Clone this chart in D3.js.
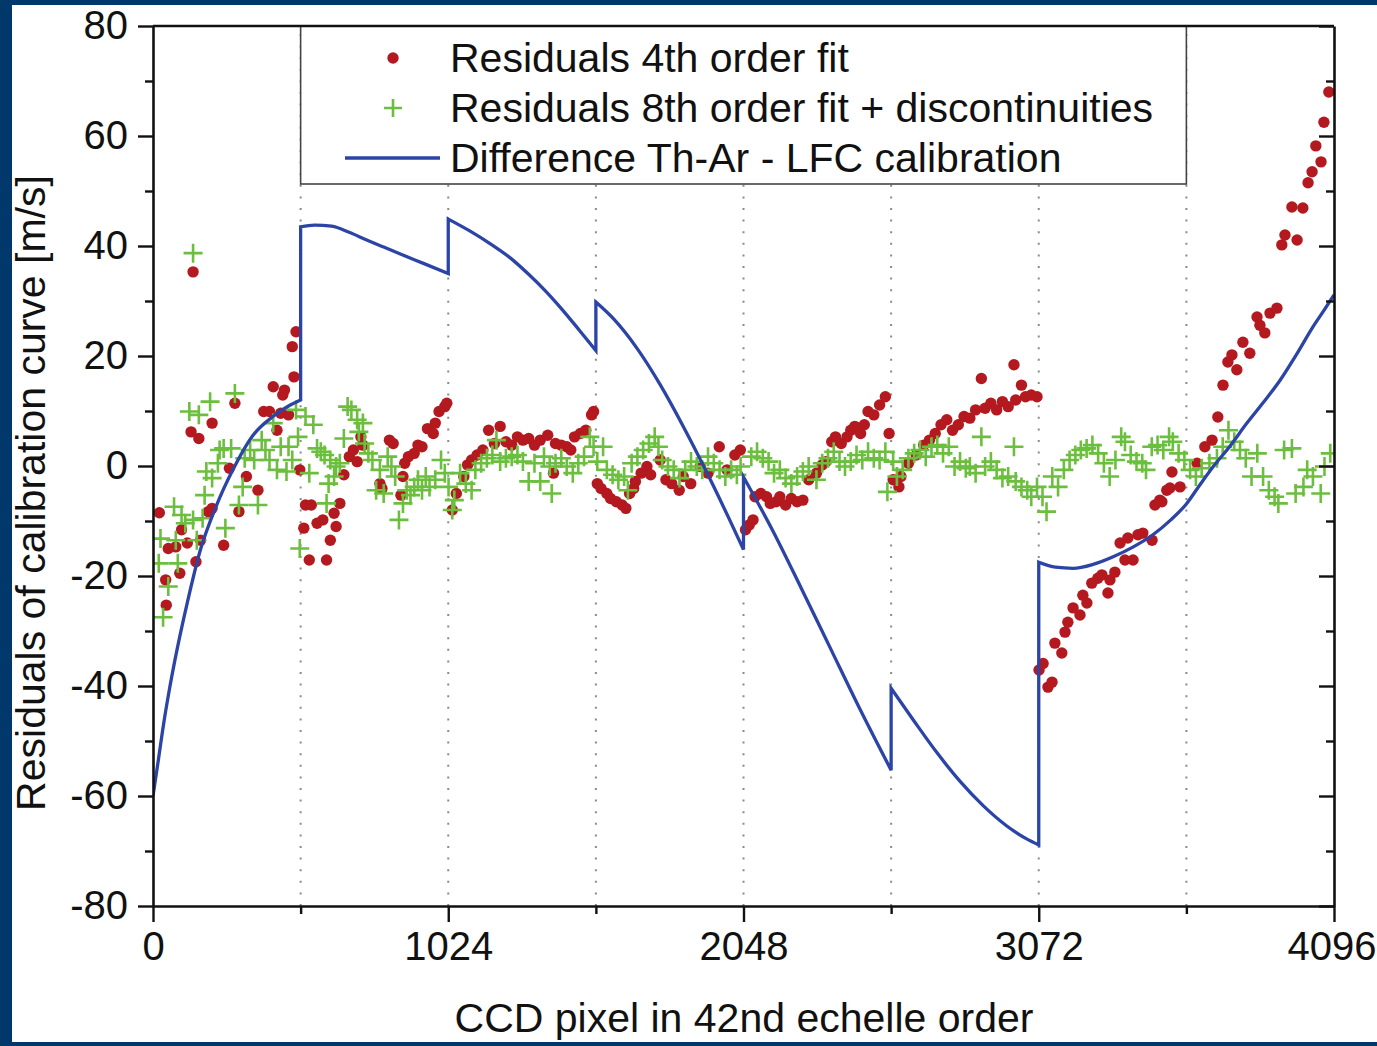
<!DOCTYPE html>
<html><head><meta charset="utf-8">
<script src="https://cdn.jsdelivr.net/npm/d3@7"></script>
<style>
html,body{margin:0;padding:0;background:#fff;}
svg{display:block;}
text{font-family:"Liberation Sans",Arial,sans-serif;fill:#111;}
</style></head>
<body>
<svg id="chart" width="1377" height="1046"></svg>
<script>
// ---------------- DATA ----------------
const seriesNames = ["Residuals 4th order fit", "Residuals 8th order fit + discontinuities", "Difference Th-Ar - LFC calibration"];
const xTickValues = [0, 1024, 2048, 3072, 4096];
const xMinorTicks = [512, 1536, 2560, 3584];
const yTickValues = [-80, -60, -40, -20, 0, 20, 40, 60, 80];
const yMinorTicks = [-70, -50, -30, -10, 10, 30, 50, 70];
const segmentBoundaries = [512, 1024, 1536, 2048, 2560, 3072, 3584];
const xTitle = "CCD pixel in 42nd echelle order";
const yTitle = "Residuals of calibration curve [m/s]";

// Residuals 4th order fit (red dots)
const redX = [22,44,46,53,79,93,99,119,132,139,149,159,165,192,205,205,245,265,284,298,324,364,384,404,417,430,443,450,456,470,483,489,496,509,
523,529,542,549,569,589,602,615,628,635,648,662,681,695,708,721,728,787,794,820,833,860,867,873,886,906,919,933,952,972,979,992,1012,1019,
1038,1052,1078,1091,1105,1124,1144,1164,1184,1204,1224,1244,1264,1283,1303,1323,1343,1369,1389,1396,1416,1435,1449,1462,1482,1501,1521,1528,
1541,1554,1574,1587,1607,1627,1640,1653,1667,1673,1693,1713,1726,1759,1779,1799,1825,1839,1865,1898,1925,1964,1991,2018,2037,
2055,2068,2081,2088,2108,2128,2141,2161,2174,2194,2214,2234,2254,2274,2301,2321,2334,2354,2367,2387,2407,2420,2434,2454,2467,2480,2500,2520,2540,2553,
2567,2587,2594,2620,2647,2673,2693,2713,2733,2753,2773,2793,2813,2833,2853,2873,2886,2906,2926,2946,2966,2986,2992,3012,3026,3046,3066,
3073,3087,3104,3118,3128,3152,3163,3173,3191,3215,3225,3239,3256,3277,3291,3312,3319,3336,3354,3371,3381,3399,3416,3433,3465,3475,3492,3499,3516,3527,3534,3562,
3621,3648,3673,3693,3711,3728,3742,3759,3780,3804,3829,3839,3856,3874,3898,3915,3926,3950,3968,3988,4006,4020,4033,4051,4061,4078];
const redY = [-8.5,-20.7,-25.3,-15,-14.7,-19.5,-11.6,-14,6.2,35.3,-17.4,5,-13.5,-8.3,-7.7,7.8,-14.4,-0.4,11.4,-8.3,-1.9,-4.4,9.9,9.9,14.4,6.5,9.6,12.9,13.8,9.3,21.7,16.2,24.4,-0.7,
-11.3,-7.1,-17.1,-7.1,-10.4,-9.8,-17.1,-13.5,-8.6,-11,-6.8,-1.6,1.7,2.9,0.8,5.3,3.8,-3.2,-4.1,4.7,4.1,-5.3,-1.9,0.5,1.7,2.3,3.8,3.5,6.8,5.9,7.8,9.9,10.8,11.4,
-8,-5,-1.9,0.2,1.1,2,2.9,6.5,4.1,7.2,4.4,3.8,5.3,4.7,5,3.8,4.7,5.6,-1.3,4.1,3.8,3.5,2.9,5.3,5.9,6.5,9.3,9.9,
-3.2,-4.1,-5,-5.9,-6.5,-7.1,-7.7,-5,-4.1,-2.8,-1.3,-0.1,-1.6,1.1,-2.5,-3.2,-4.4,-1.9,-3.2,-0.1,-1.3,3.5,-0.7,2,2.9,
-11.6,-10.7,-9.8,-5.6,-5,-5.6,-6.8,-6.5,-5.6,-7.1,-5.9,-6.5,-6.2,-2.5,-1.3,0.2,0.8,4.4,5.3,4.1,5.3,6.5,7.2,5.9,7.5,9.9,9.3,11.1,12.6,5.9,
-2.5,-3.8,-1.9,0.5,2,3.8,4.7,5.9,7.5,8.4,6.5,7.5,9,8.7,10.2,15.9,10.5,11.4,10.2,11.7,10.8,18.4,12,14.7,12.6,12.9,12.6,
-37.1,-35.9,-40.2,-39.3,-32.2,-34,-30.2,-28.4,-25.8,-27.1,-23.5,-24.9,-21.3,-20.4,-19.8,-23.1,-20.7,-19.3,-14,-17.1,-13.1,-17.1,-12.5,-12.2,-13.5,-7.1,-6.2,-6.5,-4.4,-4,-1.1,-3.8,
0.5,3.5,4.7,8.9,14.7,18.9,20.2,17.5,22.5,20.5,27.1,25.6,24.2,27.8,28.7,40.2,42,47.1,41.1,46.9,51.5,53.5,58.2,55.3,62.5,68];

// Residuals 8th order fit + discontinuities (green crosses)
const greenX = [20,26,35,53,73,79,86,99,112,126,139,139,152,159,172,179,185,198,205,225,231,245,251,271,284,298,311,318,337,351,364,377,390,404,417,430,443,463,470,483,496,503,509,
529,542,556,569,582,595,602,609,615,628,635,648,662,675,688,708,714,728,734,747,761,774,787,800,814,827,840,853,867,880,893,906,919,933,946,959,979,999,1012,1025,
1038,1045,1065,1085,1105,1118,1138,1158,1177,1191,1204,1224,1244,1264,1283,1303,1323,1343,1356,1376,1383,1396,1416,1435,1456,1475,1495,1515,1528,1541,
1561,1574,1594,1614,1634,1647,1660,1680,1700,1720,1740,1753,1766,1786,1806,1826,1846,1866,1886,1905,1925,1945,1965,1985,2005,2025,2038,
2075,2095,2115,2135,2154,2174,2194,2214,2234,2254,2274,2301,2321,2341,2361,2381,2400,2420,2440,2460,2480,2500,2520,2540,2547,
2567,2580,2600,2620,2640,2660,2680,2700,2720,2740,2760,2780,2799,2819,2833,2853,2873,2886,2906,2926,2946,2966,2986,2992,3012,3032,3046,3066,
3085,3099,3119,3139,3159,3179,3199,3218,3238,3258,3278,3298,3318,3338,3358,3371,3391,3411,3431,3444,3464,3484,3504,3524,3537,3557,3577,
3597,3617,3637,3664,3690,3710,3730,3750,3770,3790,3810,3830,3850,3870,3890,3903,3923,3950,3963,3990,4003,4023,4050,4063,4083];
const greenY = [-17.7,-13.2,-27.5,-21.9,-7.4,-13.5,-17.7,-8.9,-10.4,9.9,38.7,-9.8,-13.5,9.3,-9.5,-5.3,-1,11.7,-2.2,0.5,2.9,3.2,-11.3,3.2,13.2,-7.1,-3.8,1.4,2.9,1.1,-7.1,4.7,2.9,1.1,7.8,-0.7,3.5,-1,3.5,1.1,10.2,5.3,-15,
9,-1.3,7.5,3.2,2.6,2,-6.8,-3.2,1.1,-1.9,-0.1,0.5,5,10.8,10.2,8.4,6.2,7.8,4.1,2.3,1.1,-4.4,-0.7,-5,1.7,-0.1,-1.9,-9.8,-6.8,-4.4,-5.3,-3.8,-2.5,-4.4,-1.9,-3.8,-2.5,1.1,-1.3,-3.8,
-8,-6.2,-1.3,-3.2,-4.4,-0.7,0.5,1.4,2,4.7,0.8,1.4,1.7,2,0.8,-2.8,0.5,-2.8,1.7,-0.1,-5,0.5,1.4,-0.1,-1.3,0.5,1.7,5.3,3.5,0.8,
3.5,-0.7,-1.6,-2.5,-1.9,-4.4,0.5,1.7,2.9,4.1,5.3,3.5,1.1,-0.1,-0.7,-2.2,-0.7,0.8,-0.1,-0.7,1.7,0.5,-0.7,-1.9,-0.7,-1.6,-0.1,
1.7,2.6,1.4,0.8,-1.3,-0.7,-2.2,-3.2,-1.9,-1,-0.1,-2.5,0.5,1.4,2.6,0.8,-0.1,0.8,2,1.1,2.6,1.4,1.1,2.6,-4.7,
0.8,-1.9,-0.7,1.4,2.3,2.9,1.7,3.5,3.8,2.3,3.5,-0.1,0.8,-0.4,-0.1,-1.3,5.3,-0.1,0.8,-0.7,-2.2,-1.9,3.5,-2.8,-3.8,-4.4,-5.6,-3.8,
-5.6,-8.3,-1.9,-3.8,-0.7,1.1,2,2.9,3.2,3.8,2.3,0.5,-1.9,1.1,5.3,4.4,2,0.8,0.5,-0.7,3.5,3.8,2.9,5.3,4.4,2.3,1.1,
-0.7,-1.9,-0.4,0.5,1.4,3.5,6.5,4.4,2.9,1.4,-1.9,2.3,-1.9,-4.4,-5.6,-6.8,2.9,3.2,-5,-3.8,-0.7,-1.9,-5,-0.1,2.3];

// Difference Th-Ar - LFC calibration (blue line): one x/y list per piece between discontinuities
const blueSegX = [
  [0,19,38,57,76,120,163,220,277,347,416,470,512],
  [512,560,620,680,741,800,860,940,1024],
  [1024,1100,1170,1240,1300,1360,1420,1480,1536],
  [1536,1600,1680,1760,1840,1920,2000,2048],
  [2048,2150,2250,2350,2450,2560],
  [2560,2640,2720,2800,2880,2960,3030,3072],
  [3072,3130,3191,3260,3330,3400,3468,3530,3584,3630,3676,3735,3794,3850,3909,3965,4023,4060,4096]
];
const blueSegY = [
  [-60,-53.3,-46.5,-40.6,-35.3,-24.6,-15.5,-7.2,-0.7,5.6,9,10.9,12],
  [43.5,43.8,43.6,42.5,41.1,39.8,38.5,36.8,35],
  [44.9,42.7,40.4,37.8,35,31.9,28.4,24.6,21],
  [29.8,26.6,21.3,14.7,7.1,-1.1,-9.8,-15.2],
  [-2,-11.8,-22.4,-33.2,-44,-55.3],
  [-40.4,-46.4,-52.2,-57.4,-61.8,-65.4,-67.8,-68.9],
  [-17.5,-18.4,-18.6,-17.9,-16.5,-14.7,-12.5,-9.8,-6.9,-3.5,-0.2,3.6,7.8,11.5,15.6,20.2,25.3,28.2,31.1]
];

// ---------------- CHART ----------------
const W = 1377, H = 1046;
const svg = d3.select("#chart");
const navy = "#00386c";
const red = "#b3191e", green = "#6cbf3e", blue = "#2b44a6";

svg.append("rect").attr("x",0).attr("y",0).attr("width",W).attr("height",H).attr("fill",navy);
svg.append("rect").attr("x",12).attr("y",5).attr("width",W-12).attr("height",1037).attr("fill","#fff");

const x = d3.scaleLinear().domain([0,4096]).range([153,1334]);
const y = d3.scaleLinear().domain([-80,80]).range([906,26]);

// vertical dotted lines
svg.append("g").selectAll("line").data(segmentBoundaries).join("line")
  .attr("x1",d=>x(d)).attr("x2",d=>x(d)).attr("y1",y(-80)).attr("y2",y(80))
  .attr("stroke","#8a8a8a").attr("stroke-width",2).attr("stroke-dasharray","2,9.6");

// clip
svg.append("clipPath").attr("id","clip").append("rect")
  .attr("x",153).attr("y",26).attr("width",1181).attr("height",880);
const plot = svg.append("g").attr("clip-path","url(#clip)");

// red dots
plot.append("g").selectAll("circle").data(redX.map((d,i)=>[d,redY[i]])).join("circle")
  .attr("cx",d=>x(d[0])).attr("cy",d=>y(d[1])).attr("r",5.7).attr("fill",red);

// green crosses
const cs = 9.5;
plot.append("g").selectAll("path").data(greenX.map((d,i)=>[d,greenY[i]])).join("path")
  .attr("d",d=>{const cx=x(d[0]), cy=y(d[1]); return `M${cx-cs},${cy}H${cx+cs}M${cx},${cy-cs}V${cy+cs}`;})
  .attr("stroke",green).attr("stroke-width",2.6).attr("fill","none");

// blue line: smooth pieces joined by vertical jumps
const line = d3.line().x(d=>x(d[0])).y(d=>y(d[1])).curve(d3.curveMonotoneX);
const pathStr = blueSegX.map((xs,k)=>{
  const s = line(xs.map((v,i)=>[v,blueSegY[k][i]]));
  return k===0 ? s : "L" + s.slice(1);
}).join("");
plot.append("path").attr("d",pathStr).attr("fill","none").attr("stroke",blue).attr("stroke-width",3.3)
  .attr("stroke-linejoin","miter");

// legend
const lg = svg.append("g");
lg.append("rect").attr("x",x(512)).attr("y",y(80)).attr("width",x(3584)-x(512)).attr("height",184-y(80))
  .attr("fill","#fff").attr("stroke","#444").attr("stroke-width",1.6);
lg.append("circle").attr("cx",393).attr("cy",58).attr("r",5.7).attr("fill",red);
lg.append("path").attr("d","M384,108H402M393,99V117").attr("stroke",green).attr("stroke-width",2.6);
lg.append("line").attr("x1",345).attr("x2",440).attr("y1",158).attr("y2",158).attr("stroke",blue).attr("stroke-width",3.3);
const lfs = 41;
seriesNames.forEach((s,i)=>{
  lg.append("text").attr("x",450).attr("y",72+i*50).attr("font-size",lfs).text(s);
});

// axes
const fs = 40;
const fmt = d => String(d);
function styleAxis(g){
  g.select(".domain").attr("stroke","#111").attr("stroke-width",2.6);
  g.selectAll(".tick line").attr("stroke","#111").attr("stroke-width",2.4);
  g.selectAll(".tick text").attr("font-size",fs).attr("fill","#111").attr("font-family","Liberation Sans, Arial, sans-serif");
}
// top frame
svg.append("line").attr("x1",153).attr("x2",1334).attr("y1",26).attr("y2",26).attr("stroke","#111").attr("stroke-width",2.4);

svg.append("g").attr("transform","translate(153,0)")
  .call(d3.axisLeft(y).tickValues(yTickValues).tickSize(15).tickSizeOuter(0).tickPadding(10).tickFormat(fmt))
  .call(styleAxis);
svg.append("g").attr("transform","translate(153,0)")
  .call(d3.axisLeft(y).tickValues(yMinorTicks).tickSize(8).tickSizeOuter(0).tickFormat(""))
  .call(styleAxis).call(g=>g.select(".domain").remove());
svg.append("g").attr("transform","translate(1334,0)")
  .call(d3.axisRight(y).tickValues(yTickValues).tickSize(-15).tickSizeOuter(0).tickFormat(""))
  .call(styleAxis);
svg.append("g").attr("transform","translate(1334,0)")
  .call(d3.axisRight(y).tickValues(yMinorTicks).tickSize(-8).tickSizeOuter(0).tickFormat(""))
  .call(styleAxis).call(g=>g.select(".domain").remove());
svg.append("g").attr("transform","translate(0,906)")
  .call(d3.axisBottom(x).tickValues(xTickValues).tickSize(16).tickSizeOuter(0).tickPadding(10).tickFormat(fmt))
  .call(styleAxis)
  .call(g=>g.selectAll(".tick text").filter(d=>d===4096).attr("text-anchor","end").attr("x",42));
svg.append("g").attr("transform","translate(0,906)")
  .call(d3.axisBottom(x).tickValues(xMinorTicks).tickSize(8).tickSizeOuter(0).tickFormat(""))
  .call(styleAxis).call(g=>g.select(".domain").remove());

// titles
svg.append("text").attr("x",744).attr("y",1032).attr("text-anchor","middle").attr("font-size",41).text(xTitle);
svg.append("text").attr("transform","translate(45,493) rotate(-90)").attr("text-anchor","middle").attr("font-size",41).text(yTitle);
</script>
</body></html>
